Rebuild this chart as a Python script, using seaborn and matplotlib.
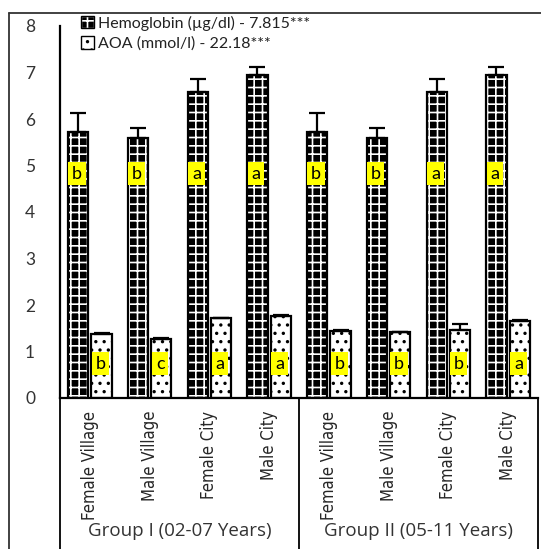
import numpy as np
import pandas as pd
import seaborn as sns
import matplotlib.pyplot as plt
from matplotlib.patches import Patch, Rectangle
from matplotlib.lines import Line2D
from matplotlib.legend_handler import HandlerTuple
import matplotlib.transforms as mtransforms

sns.set_style('white')
plt.rcParams['font.family'] = ['Lato', 'DejaVu Sans']
plt.rcParams['hatch.linewidth'] = 1.2

# Data
categories = ['Female Village', 'Male Village', 'Female City', 'Male City',
              'Female Village', 'Male Village', 'Female City', 'Male City']
groups = ['Group I (02-07 Years)', 'Group II (05-11 Years)']
series = ['Hemoglobin (µg/dl) - 7.815***', 'AOA (mmol/l) - 22.18***']
hemoglobin = [5.73, 5.60, 6.57, 6.95, 5.73, 5.60, 6.57, 6.95]
hemoglobin_err = [0.39, 0.20, 0.28, 0.17, 0.39, 0.20, 0.29, 0.17]
aoa = [1.37, 1.26, 1.71, 1.76, 1.45, 1.41, 1.46, 1.66]
aoa_err = [0.02, 0.02, 0.02, 0.02, 0.02, 0.02, 0.13, 0.02]
hemo_letters = ['b', 'b', 'a', 'a', 'b', 'b', 'a', 'a']
aoa_letters = ['b', 'c', 'a', 'a', 'b', 'b', 'b', 'a']
y_ticks = [0, 1, 2, 3, 4, 5, 6, 7, 8]

slots = [f'{i}' for i in range(len(categories))]
df = pd.DataFrame({
    'slot': slots * 2,
    'value': hemoglobin + aoa,
    'err': hemoglobin_err + aoa_err,
    'letter': hemo_letters + aoa_letters,
    'series': [series[0]] * 8 + [series[1]] * 8,
})

fig = plt.figure(figsize=(5.41, 5.49), dpi=100)
ax = fig.add_axes([60 / 541, 151 / 549, 478 / 541, 372 / 549])

sns.barplot(data=df, x='slot', y='value', hue='series', order=slots,
            hue_order=series, palette=['black', 'white'], width=0.78, gap=0.13,
            errorbar=None, legend=False, ax=ax)

bars = ax.patches[:16]
for k, p in enumerate(bars):
    row = df.iloc[k]
    if k < 8:
        p.set_facecolor('black')
        p.set_hatch('++')
        p.set_edgecolor('white')
        p.set_linewidth(0)
        ax.add_patch(Rectangle(p.get_xy(), p.get_width(), p.get_height(),
                               fill=False, ec='black', lw=1.6, zorder=3))
        ly = 4.82
    else:
        p.set_facecolor('white')
        p.set_hatch('..')
        p.set_edgecolor('black')
        p.set_linewidth(1.6)
        ly = 0.74
    xc = p.get_x() + p.get_width() / 2
    ax.errorbar(xc, row['value'], yerr=[[0], [row['err']]], fmt='none',
                ecolor='black', elinewidth=1.6, capsize=5.5, capthick=1.6, zorder=4)
    ax.text(xc - 0.02, ly, row['letter'], ha='center', va='center', fontsize=13,
            color='black', zorder=5,
            bbox=dict(boxstyle='square,pad=0.2', facecolor='#ffff00', edgecolor='none'))

ax.set_ylim(0, 8)
ax.set_xlim(-0.5, 7.5)
ax.set_yticks(y_ticks)
ax.tick_params(axis='y', length=0, pad=18, labelsize=12.5, labelcolor='#333333')
ax.set_xticks(range(8))
ax.set_xticklabels(categories, rotation=90, va='top', ha='center',
                   family=['Liberation Sans Narrow', 'DejaVu Sans'],
                   fontstretch='condensed', fontsize=12)
ax.tick_params(axis='x', length=0, pad=9)
ax.set_xlabel('')
ax.set_ylabel('')
for side in ['top', 'right']:
    ax.spines[side].set_visible(False)
ax.spines['left'].set_linewidth(1.6)
ax.spines['bottom'].set_linewidth(1.6)
ax.spines['left'].set_color('black')
ax.spines['bottom'].set_color('black')

# category box below the axis
trans = mtransforms.blended_transform_factory(ax.transData, ax.transAxes)
for xv in [-0.5, 3.5, 7.5]:
    ax.add_line(Line2D([xv, xv], [0, -0.45], transform=trans, color='black',
                       lw=1.3, clip_on=False))
for g, xg in zip(groups, [1.5, 5.5]):
    ax.text(xg, -0.357, g, transform=trans, ha='center', va='center',
            fontsize=13.5, color='#333333', family=['Open Sans', 'DejaVu Sans'])

# legend
hemo_handle = (Patch(facecolor='black', edgecolor='white', hatch='++'),
               Patch(fill=False, edgecolor='black', lw=1))
aoa_handle = Patch(facecolor='white', edgecolor='black', hatch='..')
leg = ax.legend([hemo_handle, aoa_handle], series, loc='upper left',
                bbox_to_anchor=(0.03, 1.045), frameon=False, fontsize=11.5,
                handlelength=0.8, handleheight=0.8, handletextpad=0.3,
                labelspacing=0.35, borderaxespad=0,
                handler_map={tuple: HandlerTuple(ndivide=1, pad=0)})
for t in leg.get_texts():
    t.set_color('#222222')

# outer frame
fig.add_artist(Line2D([9 / 541, 9 / 541], [0, 1 - 13 / 549], transform=fig.transFigure,
                      color='#333333', lw=1.3))
fig.add_artist(Line2D([9 / 541, 1], [1 - 13 / 549, 1 - 13 / 549], transform=fig.transFigure,
                      color='#333333', lw=1.3))

fig.savefig('out.png', dpi=100)
